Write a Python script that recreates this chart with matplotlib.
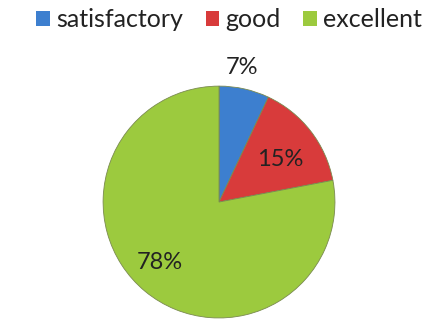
import numpy as np
import matplotlib.pyplot as plt
from matplotlib.patches import Patch

# data
categories = ['satisfactory', 'good', 'excellent']
shares = [7, 15, 78]
colors = ['#3d7fcf', '#d83b3b', '#9cca3e']
label_dist = [1.18, 0.64, 0.73]
label_shift = [3, -3, -5]  # degrees off the mid angle

plt.rcParams['font.family'] = ['Lato', 'DejaVu Sans']

fig = plt.figure(figsize=(4.35, 3.23), dpi=100)
ax = fig.add_axes([0.237, 0.0155, 0.533, 0.718])

wedges, _ = ax.pie(shares, colors=colors, startangle=90, counterclock=False,
                   wedgeprops=dict(edgecolor='#7a8a50', linewidth=0.6))
ax.set_xlim(-1.0, 1.0)
ax.set_ylim(-1.0, 1.0)
ax.set_aspect('equal')

# percentage labels placed along each wedge's mid angle
for w, v, d, s in zip(wedges, shares, label_dist, label_shift):
    ang = np.deg2rad((w.theta1 + w.theta2) / 2 + s)
    ax.text(d * np.cos(ang), d * np.sin(ang), str(v) + '%', ha='center', va='center',
            fontsize=17, color='#222222', clip_on=False)

handles = [Patch(facecolor=c, edgecolor='none') for c in colors]
fig.legend(handles, categories, loc='upper center', bbox_to_anchor=(0.527, 1.045), ncol=3,
           frameon=False, fontsize=18, handlelength=0.55, handleheight=0.55,
           handletextpad=0.25, columnspacing=0.9, labelcolor='#222222')

fig.savefig('out.png', dpi=100)
